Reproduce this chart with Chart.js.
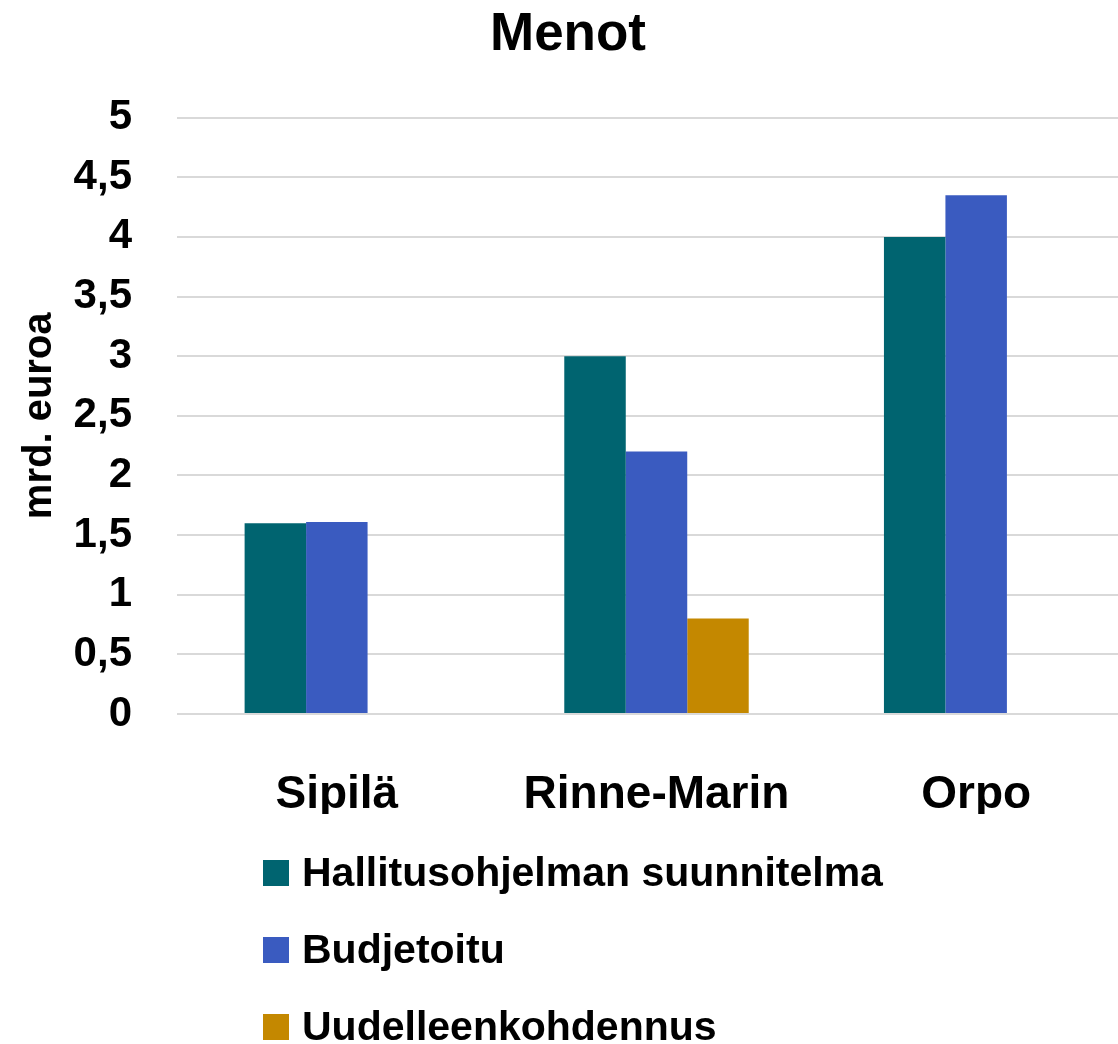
<!DOCTYPE html>
<html>
<head>
<meta charset="utf-8">
<script src="https://cdn.jsdelivr.net/npm/chart.js@4/dist/chart.umd.min.js"></script>
<style>
  html, body { margin: 0; padding: 0; background: #fff; overflow: hidden; }
  #wrap { width: 1136px; height: 1044px; }
</style>
</head>
<body>
<div id="wrap"><canvas id="menotChart"></canvas></div>
<script>
const categories = ['Sipilä', 'Rinne-Marin', 'Orpo'];
const suunnitelma = [1.6, 3.0, 4.0];
const budjetoitu = [1.61, 2.2, 4.35];
const kohdennus = [null, 0.8, null];
const seriesNames = ['Hallitusohjelman suunnitelma', 'Budjetoitu', 'Uudelleenkohdennus'];
const seriesColors = ['#006470', '#3A5BC0', '#C48800'];

const font = '"Liberation Sans", Arial, sans-serif';

// legend drawn as a vertical list under the x labels
const listLegend = {
  id: 'listLegend',
  afterDraw(chart) {
    const ctx = chart.ctx;
    ctx.save();
    ctx.font = 'bold 41px ' + font;
    ctx.textBaseline = 'middle';
    chart.data.datasets.forEach((ds, i) => {
      const y = 873 + i * 77;
      ctx.fillStyle = ds.backgroundColor;
      ctx.fillRect(263, y - 13, 26, 26);
      ctx.fillStyle = '#000';
      ctx.fillText(ds.label, 302, y + 2);
    });
    ctx.restore();
  }
};

new Chart(document.getElementById('menotChart'), {
  type: 'bar',
  data: {
    labels: categories,
    datasets: [suunnitelma, budjetoitu, kohdennus].map((d, i) => ({
      label: seriesNames[i],
      data: d,
      backgroundColor: seriesColors[i],
      categoryPercentage: 0.577,
      barPercentage: 1
    }))
  },
  options: {
    responsive: true,
    maintainAspectRatio: false,
    animation: false,
    layout: { padding: { left: 0, right: 0, top: 0, bottom: 230 } },
    plugins: {
      legend: { display: false },
      tooltip: { enabled: false },
      title: {
        display: true,
        text: 'Menot',
        color: '#000',
        font: { family: font, size: 53, weight: 'bold' },
        padding: { top: 4, bottom: 50 }
      }
    },
    scales: {
      x: {
        grid: { display: false },
        border: { display: false },
        ticks: { color: '#000', font: { family: font, size: 46, weight: 'bold' }, padding: 46 },
        afterFit(s) { s.height = 100; }
      },
      y: {
        min: 0,
        max: 5,
        ticks: {
          stepSize: 0.5,
          color: '#000',
          font: { family: font, size: 42, weight: 'bold' },
          padding: 45,
          callback: v => String(v).replace('.', ',')
        },
        grid: { color: '#d9d9d9', lineWidth: 2, drawTicks: false },
        border: { display: false },
        title: {
          display: true,
          text: 'mrd. euroa',
          color: '#000',
          font: { family: font, size: 40, weight: 'bold' },
          padding: { top: 16, bottom: 0 }
        },
        afterFit(s) { s.width = 177; }
      }
    }
  },
  plugins: [listLegend]
});
</script>
</body>
</html>
